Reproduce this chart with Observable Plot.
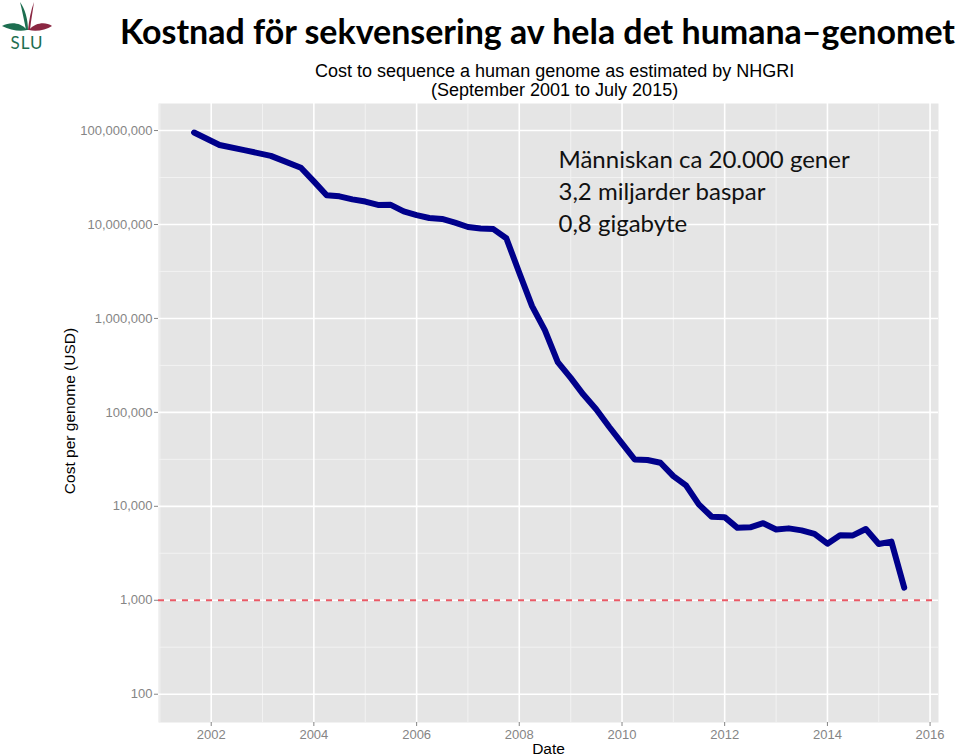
<!DOCTYPE html>
<html><head><meta charset="utf-8">
<script src="https://cdn.jsdelivr.net/npm/d3@7"></script>
<script src="https://cdn.jsdelivr.net/npm/@observablehq/plot@0.6"></script>
<style>
body{margin:0;background:#fff;width:959px;height:756px;overflow:hidden}
#header{position:relative;height:100px;width:959px}
#title{position:absolute;left:120px;top:14px;font-family:Lato;font-weight:bold;font-size:34px;line-height:1;white-space:nowrap;transform-origin:0 0;color:#000}
.sub{position:absolute;font-family:"Liberation Sans";font-size:18px;line-height:1;white-space:nowrap;color:#000}
#logo{position:absolute;left:0;top:0}
#chart svg{display:block}
</style></head>
<body>
<div id="header">
  <svg id="logo" width="60" height="56" viewBox="0 0 60 56">
    <path d="M26,30 C24,20 22,10 20,2 C25,9 28,19 28,30 Z" fill="#1d6e50"/>
    <path d="M28,30 C29,20 31,10 34,2 C33,10 31,20 30,30 Z" fill="#8a2742"/>
    <path d="M27,30 C20,22 10,22 2,26 C10,30 20,32 27,30 Z" fill="#1d6e50"/>
    <path d="M29,30 C36,22 46,22 52,26 C46,30 36,32 29,30 Z" fill="#8a2742"/>
    <text x="27" y="49" text-anchor="middle" font-family="Lato" font-size="17" fill="#1d6e50" letter-spacing="1">SLU</text>
  </svg>
  <div id="title">Kostnad för sekvensering av hela det humana–genomet</div>
  <div class="sub" style="left:315px;top:62px">Cost to sequence a human genome as estimated by NHGRI</div>
  <div class="sub" style="left:431px;top:81px">(September 2001 to July 2015)</div>
</div>
<div id="chart"></div>
<script>
// ---- data ----
const dates = ["2001-09-01","2002-03-01","2002-09-01","2003-03-01","2003-10-01","2004-01-01","2004-04-01","2004-07-01","2004-10-01","2005-01-01","2005-04-01","2005-07-01","2005-10-01","2006-01-01","2006-04-01","2006-07-01","2006-10-01","2007-01-01","2007-04-01","2007-07-01","2007-10-01","2008-01-01","2008-04-01","2008-07-01","2008-10-01","2009-01-01","2009-04-01","2009-07-01","2009-10-01","2010-01-01","2010-04-01","2010-07-01","2010-10-01","2011-01-01","2011-04-01","2011-07-01","2011-10-01","2012-01-01","2012-04-01","2012-07-01","2012-10-01","2013-01-01","2013-04-01","2013-07-01","2013-10-01","2014-01-01","2014-04-01","2014-07-01","2014-10-01","2015-01-01","2015-04-01","2015-07-01"];
const costs = [95263072,70175437,61448422,53751684,40153197,28780376,20442576,19934346,18519312,17534970,16159699,16180224,13801124,12585659,11732535,11455315,10474556,9408739,9047003,8927342,7147571,3063820,1352982,752080,342502,232735,154714,108065,70333,46774,31512,31125,29092,20963,16712,10497,7743,7666,5901,5985,6618,5671,5826,5550,5096,4008,4920,4905,5731,3970,4211,1363];
const yTicks = [100,1000,10000,100000,1000000,10000000,100000000];
const yMinor = [316.23,3162.3,31623,316228,3162278,31622777];
const xTickYears = [2002,2004,2006,2008,2010,2012,2014,2016];
const xMinorYears = [2001,2003,2005,2007,2009,2011,2013,2015];
const threshold = 1000;
const annotationLines = ["Människan ca 20.000 gener","3,2 miljarder baspar","0,8 gigabyte"];
const yLabel = "Cost per genome (USD)";
const xLabel = "Date";

const data = dates.map((d,i)=>({date:new Date(d+"T00:00:00Z"), cost:costs[i]}));
const yr = y => new Date(Date.UTC(y,0,1));

const chart = Plot.plot({
  width:959, height:656,
  marginLeft:158, marginRight:21, marginTop:3, marginBottom:34,
  style:{fontFamily:"Liberation Sans", background:"transparent", overflow:"visible"},
  x:{type:"utc", domain:[new Date("2000-12-22T00:00:00Z"), new Date("2016-03-01T00:00:00Z")], label:null},
  y:{type:"log", domain:[50,1.94e8], label:null},
  marks:[
    Plot.frame({fill:"#e5e5e5", stroke:null}),
    Plot.ruleX(xMinorYears.map(yr), {stroke:"#f2f2f2", strokeWidth:1}),
    Plot.ruleY(yMinor, {stroke:"#f2f2f2", strokeWidth:1}),
    Plot.ruleX(xTickYears.map(yr), {stroke:"#ffffff", strokeWidth:1.6}),
    Plot.ruleY(yTicks, {stroke:"#ffffff", strokeWidth:1.6}),
    Plot.ruleY([threshold], {stroke:"#ea5a66", strokeWidth:2, strokeDasharray:"6,6"}),
    Plot.line(data, {x:"date", y:"cost", stroke:"#00008b", strokeWidth:6, strokeLinejoin:"round"}),
    Plot.axisY(yTicks, {tickFormat:d3.format(","), tickSize:4, tickPadding:2, fontSize:13, color:"#858585", label:null}),
    Plot.axisX(xTickYears.map(yr), {tickFormat:d3.utcFormat("%Y"), tickSize:4, tickPadding:3, fontSize:13, color:"#858585", label:null}),
    Plot.text([yLabel], {frameAnchor:"left", textAnchor:"middle", rotate:-90, dx:-88, dy:-2, fontSize:15.5, fill:"#000"}),
    Plot.text([xLabel], {frameAnchor:"bottom", textAnchor:"middle", dy:31, fontSize:15.5, fill:"#000"}),
    Plot.text([annotationLines.join("\n")], {frameAnchor:"top-left", dx:400, dy:42, textAnchor:"start", lineAnchor:"top", fontFamily:"Lato", fontSize:24, lineHeight:1.333, fill:"#111"})
  ]
});
document.getElementById("chart").appendChild(chart);

// fit title width
const t = document.getElementById("title");
const w = t.getBoundingClientRect().width;
t.style.transform = `scaleX(${835 / w})`;
</script>
</body></html>
